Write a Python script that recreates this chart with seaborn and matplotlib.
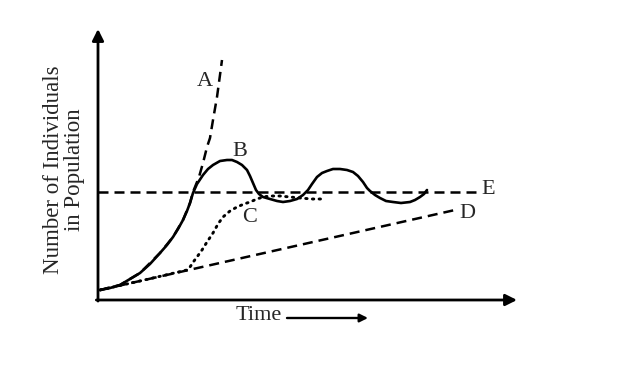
import matplotlib
matplotlib.use("Agg")
import matplotlib.pyplot as plt
import seaborn as sns

# curve values (time units, population units)
a_t = [0.2, 2.2, 4.2, 6.2, 7.5, 8.5, 9.2, 9.5, 10.1, 10.5, 10.9, 11.2, 11.5, 11.9, 12.2, 12.4]
a_n = [1.0, 1.5, 2.7, 4.7, 6.3, 8.0, 9.7, 10.8, 12.3, 13.7, 15.3, 16.2, 18.0, 20.3, 22.5, 24.0]

b_t = [0.2, 1.2, 2.2, 3.2, 4.2, 5.2, 6.2, 6.9, 7.5, 8.0, 8.5, 8.9, 9.2, 9.5, 9.9,
       10.5, 11.0, 11.5, 12.2, 12.9, 13.4, 13.9, 14.4, 14.9, 15.2, 15.5, 15.8, 16.1, 16.5, 17.2,
       17.9, 18.5, 19.2, 19.9, 20.5, 21.0, 21.4, 21.9, 22.4, 22.9, 23.5, 24.2, 24.9, 25.5, 26.0,
       26.5, 26.9, 27.2, 27.7, 28.2, 28.8, 29.5, 30.3, 31.2, 31.7, 32.2, 32.6, 32.9]
b_n = [1.0, 1.2, 1.5, 2.1, 2.7, 3.6, 4.7, 5.5, 6.3, 7.1, 8.0, 8.9, 9.7, 10.7, 11.6,
       12.5, 13.1, 13.5, 13.9, 14.0, 14.0, 13.8, 13.5, 13.0, 12.4, 11.7, 11.0, 10.6, 10.3, 10.1,
       9.9, 9.8, 9.9, 10.1, 10.5, 11.0, 11.6, 12.3, 12.7, 12.9, 13.1, 13.1, 13.0, 12.8, 12.4,
       11.8, 11.2, 10.9, 10.5, 10.2, 9.9, 9.8, 9.7, 9.8, 10.0, 10.3, 10.6, 11.0]

c_t = [0.2, 4.2, 7.2, 8.9, 9.2, 9.6, 9.9, 10.4, 10.9, 11.5, 12.0, 12.5, 13.2, 13.9, 14.6,
       15.2, 15.9, 16.5, 17.2, 18.2, 19.2, 20.2, 21.4, 22.5]
c_n = [1.0, 1.9, 2.6, 3.0, 3.3, 3.9, 4.3, 5.0, 5.8, 6.7, 7.6, 8.3, 8.9, 9.3, 9.6,
       9.8, 10.1, 10.3, 10.4, 10.4, 10.3, 10.2, 10.1, 10.1]

d_t = [0.2, 35.7]
d_n = [1.0, 9.0]

e_t = [0.0, 37.9]
e_n = [10.8, 10.8]

curve_labels = ["A", "B", "C", "D", "E"]
label_t = [10.7, 14.2, 15.2, 36.9, 39.0]
label_n = [21.8, 14.8, 8.2, 8.7, 11.1]

sns.set_style("white")
plt.rcParams["font.family"] = ["Liberation Serif", "DejaVu Serif"]

fig = plt.figure(figsize=(6.4, 3.76), dpi=100)
ax = fig.add_axes([98 / 640, 76 / 376, 419 / 640, 271 / 376])
ax.set_xlim(0, 41.9)
ax.set_ylim(0, 27.1)

dash = (0, (4.0, 2.4))
sns.lineplot(x=a_t, y=a_n, ax=ax, color="k", lw=1.8, linestyle=dash, estimator=None, sort=False)
sns.lineplot(x=b_t, y=b_n, ax=ax, color="k", lw=1.9, estimator=None, sort=False)
sns.lineplot(x=c_t, y=c_n, ax=ax, color="k", lw=2.1, linestyle=(0, (0.5, 1.8)),
             dash_capstyle="round", estimator=None, sort=False)
sns.lineplot(x=d_t, y=d_n, ax=ax, color="k", lw=1.8, linestyle=dash, estimator=None, sort=False)
sns.lineplot(x=e_t, y=e_n, ax=ax, color="k", lw=1.8, linestyle=dash, estimator=None, sort=False)

for lab, t, n in zip(curve_labels, label_t, label_n):
    ax.text(t, n, lab, fontsize=16, ha="center", va="center")

for sp in ax.spines.values():
    sp.set_visible(False)
ax.set_xticks([])
ax.set_yticks([])
ax.set_xlabel("")
ax.set_ylabel("")

arrow = dict(arrowstyle="-|>", lw=2.0, color="k", mutation_scale=17, shrinkA=0, shrinkB=0)
ax.annotate("", xy=(0, 1), xytext=(0, -0.004), xycoords="axes fraction", arrowprops=arrow,
            annotation_clip=False)
ax.annotate("", xy=(1, 0), xytext=(-0.004, 0), xycoords="axes fraction", arrowprops=arrow,
            annotation_clip=False)

fig.text(64 / 640, 1 - 170 / 376, "Number of Individuals\nin Population", rotation=90,
         fontsize=16.5, ha="center", va="center", linespacing=1.05)
fig.text(259 / 640, 1 - 316 / 376, "Time", fontsize=16, ha="center", va="center")
fig.add_artist(matplotlib.patches.FancyArrowPatch(
    (287 / 640, 1 - 318 / 376), (368 / 640, 1 - 318 / 376), transform=fig.transFigure,
    arrowstyle="-|>", lw=1.7, color="k", mutation_scale=12, shrinkA=0, shrinkB=0))

fig.savefig("out.png", dpi=100)
